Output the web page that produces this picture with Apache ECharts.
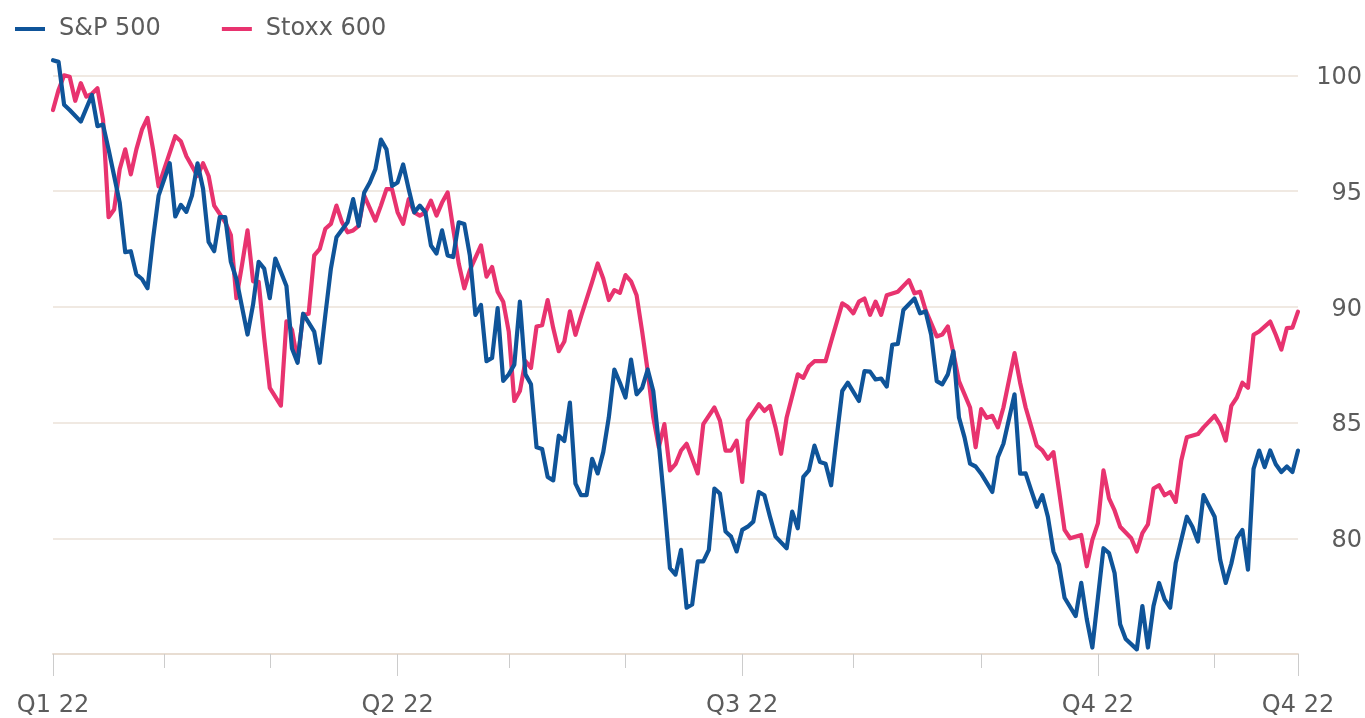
<!DOCTYPE html>
<html>
<head>
<meta charset="utf-8">
<script src="https://cdn.jsdelivr.net/npm/echarts@6/dist/echarts.min.js"></script>
<style>
html,body{margin:0;padding:0;background:#fff;}
#chart{width:1365px;height:718px;}
</style>
</head>
<body>
<div id="chart"></div>
<script>
// Trading-day index (0 = 3 Jan 2022, 224 = 22 Nov 2022), rebased index values
const spDays = [0,1,2,3,5,7,8,9,10,11,12,13,14,15,16,17,18,19,21,22,23,24,25,26,27,28,29,30,31,32,33,35,36,37,38,39,40,41,42,43,44,45,47,48,49,50,51,53,54,55,56,57,58,59,60,61,62,63,64,65,66,67,68,69,70,71,72,73,74,75,76,77,78,79,80,81,82,83,84,85,86,87,88,89,90,91,92,93,94,95,96,97,98,99,100,101,102,103,104,105,106,107,108,109,110,111,112,113,114,115,116,117,118,119,120,121,122,123,124,125,126,127,128,129,130,132,133,134,135,136,137,138,139,140,141,142,143,145,146,147,148,149,150,151,152,153,155,156,157,158,159,160,161,162,163,164,165,166,167,169,170,171,173,174,175,176,177,178,179,180,181,182,184,185,186,187,189,190,191,192,193,195,196,197,198,199,200,201,202,203,204,205,206,207,208,209,210,211,212,213,214,215,216,217,218,219,220,221,222,223,224];
const spValues = [100.65,100.58,98.73,98.5,98.0,99.15,97.8,97.87,96.8,95.65,94.5,92.36,92.4,91.4,91.2,90.8,92.94,94.8,96.2,93.9,94.4,94.1,94.8,96.2,95.1,92.8,92.4,93.87,93.87,91.94,91.2,88.8,90.1,91.94,91.65,90.37,92.08,91.5,90.9,88.2,87.58,89.7,88.93,87.58,89.65,91.65,93.0,93.65,94.65,93.5,94.94,95.37,95.94,97.22,96.8,95.22,95.37,96.15,95.08,94.08,94.37,94.08,92.65,92.3,93.3,92.22,92.15,93.65,93.58,92.22,89.65,90.08,87.65,87.79,89.94,86.8,87.08,87.5,90.22,87.08,86.65,83.93,83.86,82.65,82.5,84.43,84.2,85.86,82.36,81.86,81.86,83.43,82.8,83.72,85.22,87.29,86.72,86.08,87.72,86.22,86.5,87.29,86.36,84.08,81.5,78.71,78.43,79.5,77.0,77.14,79.0,79.0,79.5,82.15,81.93,80.29,80.07,79.43,80.36,80.5,80.72,82.0,81.86,80.93,80.07,79.57,81.15,80.43,82.65,82.93,84.0,83.29,83.22,82.29,84.36,86.36,86.72,85.93,87.22,87.2,86.86,86.9,86.55,88.36,88.4,89.86,90.36,89.72,89.8,88.79,86.79,86.65,87.08,88.08,85.22,84.36,83.22,83.1,82.79,82.0,83.5,84.08,86.22,82.79,82.8,82.07,81.36,81.86,80.93,79.43,78.86,77.43,76.64,78.07,76.5,75.28,79.57,79.36,78.5,76.29,75.65,75.2,77.07,75.28,77.07,78.07,77.36,77.0,78.93,79.93,80.93,80.5,79.86,81.86,81.4,80.93,79.07,78.07,78.9,80.0,80.36,78.64,83.0,83.79,83.07,83.79,83.2,82.86,83.1,82.86,83.79];

const stoxxDays = [0,1,2,3,4,5,6,7,8,9,10,11,12,13,14,15,16,17,18,19,20,22,23,24,26,27,28,29,31,32,33,34,35,36,37,38,39,41,42,43,44,45,46,47,48,49,50,51,52,53,54,55,56,58,59,60,61,62,63,64,65,66,67,68,69,70,71,72,73,74,75,77,78,79,80,81,82,83,84,85,86,87,88,89,90,91,92,93,94,95,97,98,99,100,101,102,103,104,105,106,107,108,109,110,111,112,113,114,116,117,119,120,121,122,123,124,125,127,128,129,130,131,132,134,135,136,137,139,140,142,143,144,145,146,147,148,149,150,152,154,155,156,157,159,160,161,162,163,165,166,167,168,169,170,171,173,174,175,177,178,179,180,181,182,183,185,186,187,188,189,190,191,192,194,195,196,197,198,199,200,201,202,203,204,206,207,209,210,211,212,213,214,215,216,217,219,220,221,222,223,224];
const stoxxValues = [98.5,99.37,100.0,99.94,98.9,99.66,99.08,99.2,99.44,98.08,93.87,94.2,95.94,96.8,95.72,96.8,97.65,98.16,96.8,95.2,95.94,97.37,97.15,96.5,95.65,96.2,95.65,94.37,93.65,93.1,90.37,91.8,93.3,91.1,91.08,88.65,86.5,85.73,89.37,89.0,87.65,89.65,89.7,92.22,92.5,93.37,93.58,94.37,93.65,93.22,93.3,93.5,94.8,93.72,94.37,95.08,95.08,94.08,93.58,94.65,94.08,93.94,94.08,94.58,93.94,94.5,94.94,93.37,91.87,90.8,91.58,92.65,91.3,91.72,90.65,90.22,88.93,85.93,86.36,87.65,87.36,89.15,89.2,90.29,89.08,88.08,88.5,89.8,88.79,89.58,91.08,91.87,91.22,90.29,90.72,90.6,91.37,91.1,90.5,88.93,87.22,85.22,83.93,84.93,82.93,83.2,83.79,84.08,82.8,84.93,85.65,85.08,83.79,83.79,84.22,82.43,85.08,85.79,85.5,85.72,84.79,83.65,85.22,87.08,86.93,87.43,87.65,87.65,88.5,90.15,90.0,89.72,90.22,90.36,89.65,90.22,89.65,90.5,90.65,91.15,90.58,90.65,89.86,88.72,88.8,89.15,88.0,86.79,85.65,83.93,85.58,85.2,85.29,84.79,85.65,88.0,86.72,85.65,84.0,83.8,83.43,83.72,82.07,80.36,80.0,80.14,78.79,79.93,80.64,82.93,81.72,81.2,80.5,80.0,79.43,80.22,80.6,82.15,82.29,81.86,82.0,81.57,83.36,84.36,84.5,84.79,85.29,84.9,84.22,85.72,86.08,86.72,86.5,88.79,88.93,89.36,88.79,88.15,89.08,89.1,89.79];

// Month-start ticks (trading-day index) and quarter labels
const monthTickDays = [0,20,39,62,82,103,124,144,167,188,209,224];
const quarterTickDays = [0,62,124,188,224];
const quarterLabels = ['Q1 22','Q2 22','Q3 22','Q4 22','Q4 22'];
const yTicks = [80,85,90,95,100];

const seriesNames = ['S&P 500','Stoxx 600'];
const colors = ['#0f5499','#e8336f'];

const toPairs = (xs, ys) => xs.map((d, i) => [d, ys[i]]);
const FONT = '"DejaVu Sans", sans-serif';
const labelColor = '#5c5c5c';

const chart = echarts.init(document.getElementById('chart'), null, {renderer: 'canvas'});
chart.setOption({
  backgroundColor: '#ffffff',
  animation: false,
  legend: {
    left: 10, top: 12,
    data: seriesNames,
    icon: 'rect',
    itemWidth: 30, itemHeight: 4,
    itemGap: 61,
    textStyle: {fontFamily: FONT, fontSize: 24, color: labelColor, padding: [0, 0, 0, 9]}
  },
  grid: {left: 53, right: 67, top: 75.3, bottom: 62, containLabel: false},
  xAxis: [
    {
      type: 'value', min: 0, max: 224, position: 'bottom',
      axisLine: {show: true, lineStyle: {color: '#e8ddd2', width: 2}},
      axisTick: {show: true, length: 14, lineStyle: {color: '#cccccc', width: 1}, customValues: monthTickDays},
      axisLabel: {show: false},
      splitLine: {show: false}
    },
    {
      type: 'value', min: 0, max: 224, position: 'bottom',
      axisLine: {show: false},
      axisTick: {show: true, length: 22, lineStyle: {color: '#cccccc', width: 1}, customValues: quarterTickDays},
      axisLabel: {
        show: true, customValues: quarterTickDays, margin: 40,
        fontFamily: FONT, fontSize: 24, color: labelColor,
        formatter: v => { const i = quarterTickDays.indexOf(v); return i >= 0 ? quarterLabels[i] : ''; }
      },
      splitLine: {show: false}
    }
  ],
  yAxis: {
    type: 'value', position: 'right', min: 75, max: 100, interval: 5,
    axisLine: {show: false},
    axisTick: {show: false},
    axisLabel: {
      align: 'left', margin: 14, padding: [5, 0, 0, 0],
      formatter: v => yTicks.indexOf(v) >= 0 ? '{a|' + v + '}' : '',
      rich: {a: {fontFamily: FONT, fontSize: 24, color: labelColor, width: 50, align: 'right'}}
    },
    splitLine: {show: true, lineStyle: {color: '#ebe2d9', width: 1.5}}
  },
  series: [
    {
      name: seriesNames[0], type: 'line', xAxisIndex: 0, data: toPairs(spDays, spValues),
      showSymbol: false, symbol: 'none', clip: false, z: 3,
      lineStyle: {color: colors[0], width: 4.2, join: 'round', cap: 'round'}, itemStyle: {color: colors[0]}
    },
    {
      name: seriesNames[1], type: 'line', xAxisIndex: 0, data: toPairs(stoxxDays, stoxxValues),
      showSymbol: false, symbol: 'none', clip: false, z: 2,
      lineStyle: {color: colors[1], width: 4.2, join: 'round', cap: 'round'}, itemStyle: {color: colors[1]}
    }
  ]
});
</script>
</body>
</html>
